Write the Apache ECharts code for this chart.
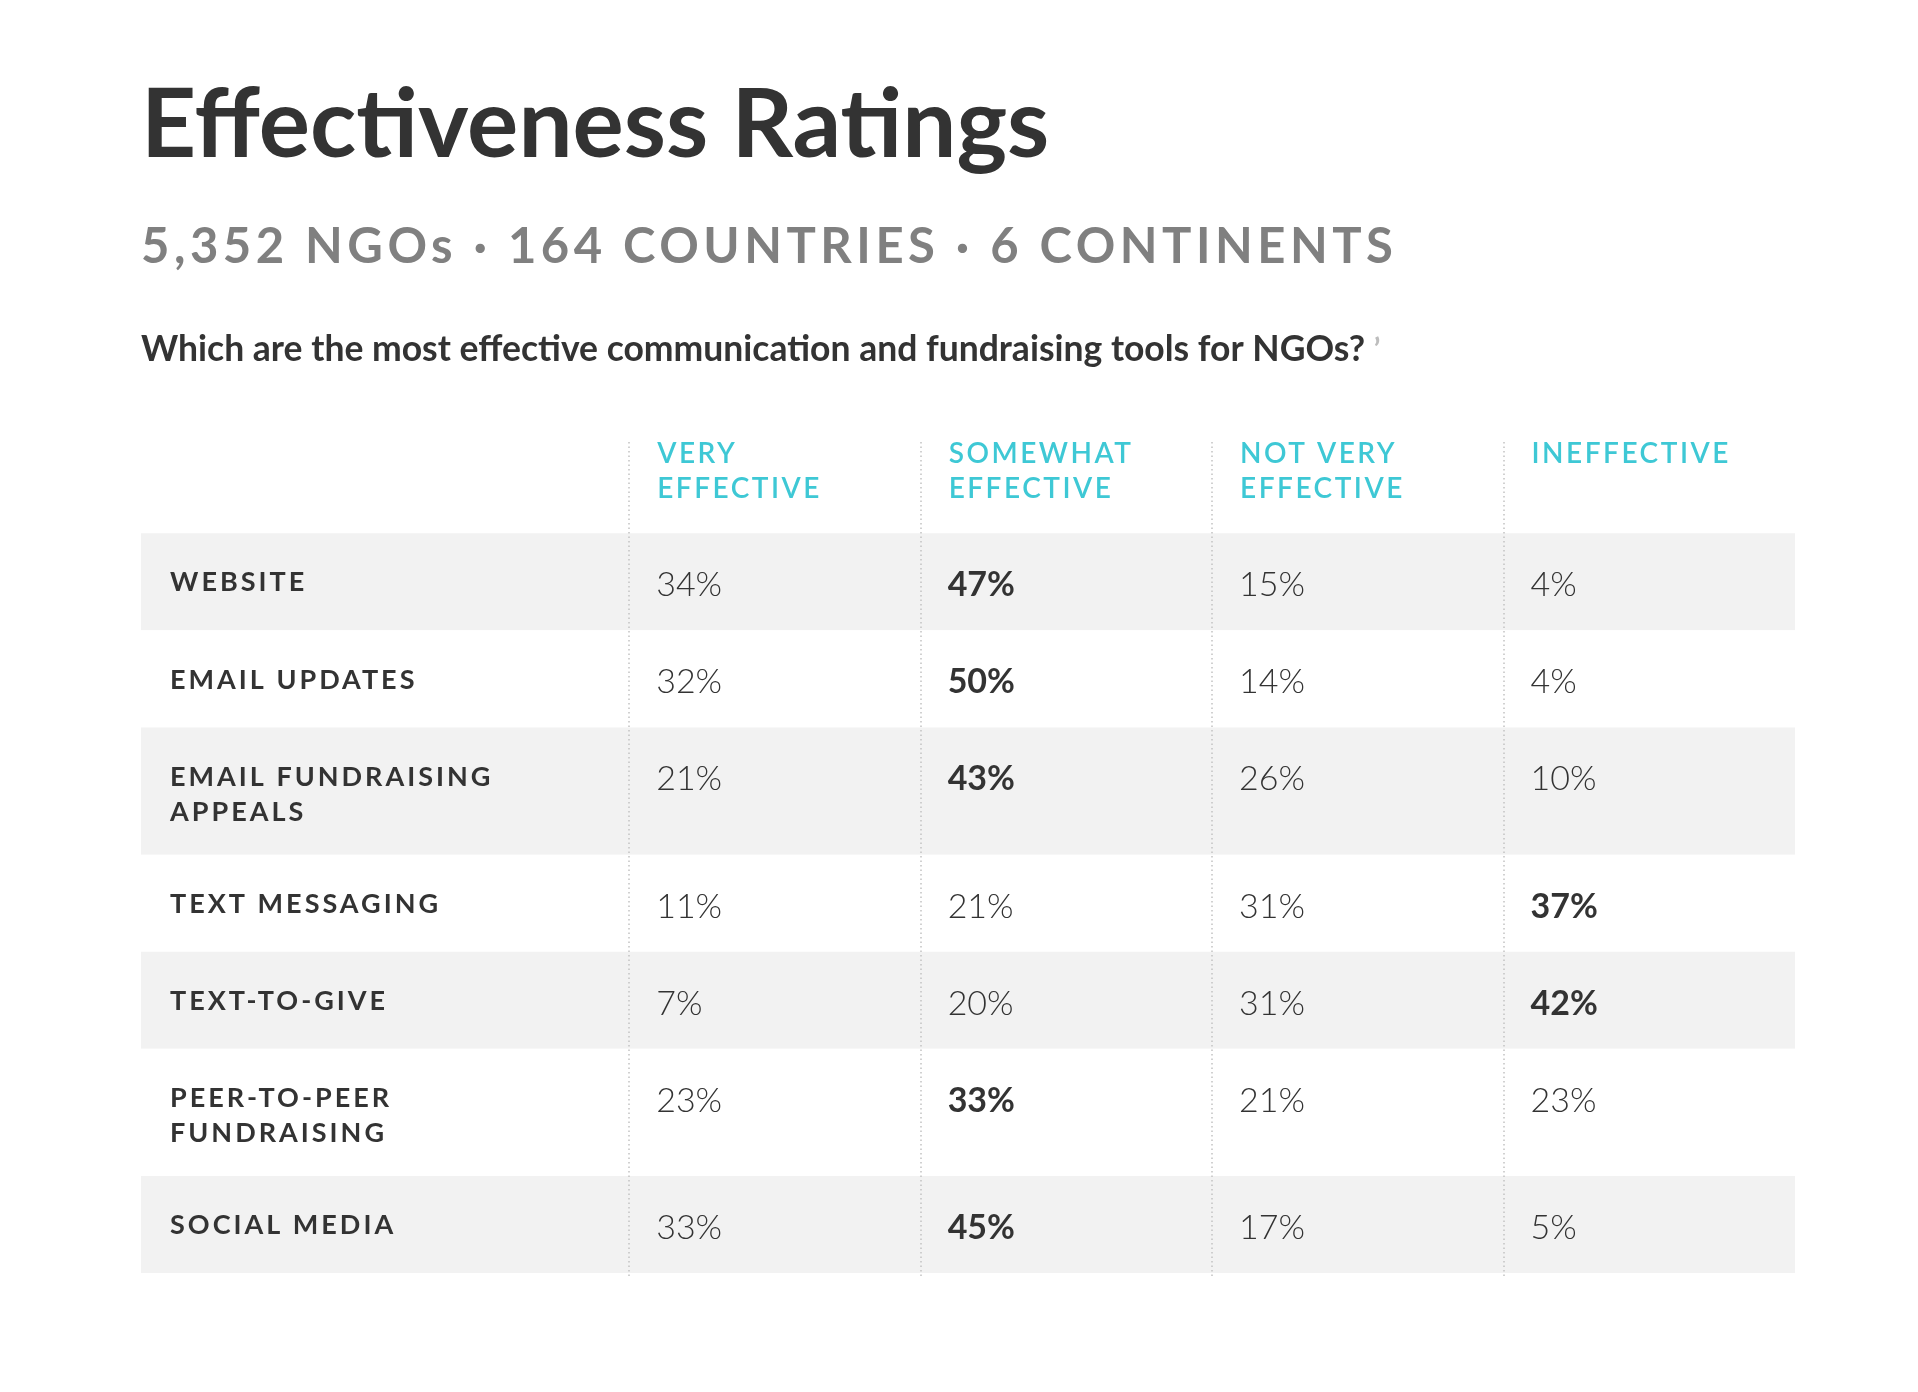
<!DOCTYPE html>
<html>
<head>
<meta charset="utf-8">
<title>Effectiveness Ratings</title>
<script src="https://cdn.jsdelivr.net/npm/echarts@6/dist/echarts.min.js"></script>
<style>
  html, body { margin: 0; padding: 0; background: #fff; }
  #chart { width: 1918px; height: 1392px; }
</style>
</head>
<body>
<div id="chart"></div>
<script>
// rows of the table (a "\n" gives a second label line and a taller row)
var tools = ['WEBSITE', 'EMAIL UPDATES', 'EMAIL FUNDRAISING\nAPPEALS', 'TEXT MESSAGING',
             'TEXT-TO-GIVE', 'PEER-TO-PEER\nFUNDRAISING', 'SOCIAL MEDIA'];
var ratings = ['VERY\nEFFECTIVE', 'SOMEWHAT\nEFFECTIVE', 'NOT VERY\nEFFECTIVE', 'INEFFECTIVE'];

// percent values, one list per rating column
var veryEffective     = [34, 32, 21, 11,  7, 23, 33];
var somewhatEffective = [47, 50, 43, 21, 20, 33, 45];
var notVeryEffective  = [15, 14, 26, 31, 31, 21, 17];
var ineffective       = [ 4,  4, 10, 37, 42, 23,  5];

var titleText = 'Effectiveness Ratings';
var subText = '5,352 NGOs \u00b7 164 COUNTRIES \u00b7 6 CONTINENTS';
var questionText = 'Which are the most effective communication and fundraising tools for NGOs?';

// letter spacing for the spaced-out caps, picked by font size
var SPACING = { '49': 4.5, '28': 2.5, '27': 3 };
var _fillText = CanvasRenderingContext2D.prototype.fillText;
CanvasRenderingContext2D.prototype.fillText = function (t, x, y, w) {
    var m = /(\d+)px/.exec(this.font);
    var sp = m && SPACING[m[1]];
    this.letterSpacing = sp ? sp + 'px' : '0px';
    return w === undefined ? _fillText.call(this, t, x, y) : _fillText.call(this, t, x, y, w);
};

var columns = [veryEffective, somewhatEffective, notVeryEffective, ineffective];
var LABEL_SPAN = 1.675;   // label column width, in rating-column widths
var HEADER_SPAN = 0.94;   // header band height, in row heights
var EXTRA_LINE = 0.31;    // added height per extra label line

var rowTop = [], rowSpan = [];
var acc = 0;
for (var r = 0; r < tools.length; r++) {
    var n = tools[r].split('\n').length;
    rowTop.push(acc);
    rowSpan.push(1 + EXTRA_LINE * (n - 1));
    acc += rowSpan[r];
}
var ROWS_END = acc;

var cells = [];
for (var c = 0; c < columns.length; c++) {
    for (var r2 = 0; r2 < tools.length; r2++) {
        cells.push([c, r2, columns[c][r2]]);
    }
}
function rowMax(r) {
    var m = 0;
    for (var c = 0; c < columns.length; c++) m = Math.max(m, columns[c][r]);
    return m;
}

var FONT = 'Lato, "Open Sans", sans-serif';
var chart = echarts.init(document.getElementById('chart'));

chart.setOption({
    backgroundColor: '#ffffff',
    animation: false,
    title: [
        { text: titleText, left: 141, top: 78, padding: 0,
          textStyle: { fontFamily: FONT, fontSize: 96, fontWeight: 'bold', color: '#333333' } },
        { text: subText, left: 141, top: 223, padding: 0,
          textStyle: { fontFamily: FONT, fontSize: 49, fontWeight: 'bold', color: '#808080' } },
        { text: questionText + ' {m|\u2019}', left: 141, top: 332, padding: 0,
          textStyle: { fontFamily: FONT, fontSize: 35.5, fontWeight: 'bold', color: '#333333',
                       rich: { m: { fontFamily: FONT, fontSize: 30, color: '#bdbdbd' } } } }
    ],
    grid: { left: 141, right: 123, top: 442, bottom: 115 },
    xAxis: { type: 'value', min: -LABEL_SPAN, max: columns.length, show: false },
    yAxis: { type: 'value', inverse: true, min: -HEADER_SPAN, max: ROWS_END + 0.04, show: false },
    series: [
        {
            // row bands, grey on every other row
            type: 'custom',
            silent: true,
            data: tools.map(function (t, i) { return [i]; }),
            renderItem: function (params, api) {
                var r = api.value(0);
                var p0 = api.coord([-LABEL_SPAN, rowTop[r]]);
                var p1 = api.coord([columns.length, rowTop[r] + rowSpan[r]]);
                return {
                    type: 'rect',
                    shape: { x: p0[0], y: p0[1], width: p1[0] - p0[0], height: p1[1] - p0[1] },
                    style: { fill: r % 2 === 0 ? '#f2f2f2' : '#ffffff' }
                };
            },
            markLine: {
                silent: true,
                symbol: 'none',
                label: { show: false },
                lineStyle: { color: '#c2c2c2', width: 1.5, type: [1.5, 3] },
                data: ratings.map(function (t, i) { return { xAxis: i }; })
            }
        },
        {
            // row labels
            type: 'custom',
            silent: true,
            data: tools.map(function (t, i) { return [i]; }),
            renderItem: function (params, api) {
                var r = api.value(0);
                var p = api.coord([-LABEL_SPAN, rowTop[r]]);
                return {
                    type: 'text',
                    x: p[0] + 29, y: p[1] + 32,
                    style: { text: tools[r], fontFamily: FONT, fontSize: 27, fontWeight: 'bold',
                             fill: '#333333', lineHeight: 35, verticalAlign: 'top', align: 'left' }
                };
            }
        },
        {
            // column headers
            type: 'custom',
            silent: true,
            data: ratings.map(function (t, i) { return [i]; }),
            renderItem: function (params, api) {
                var c = api.value(0);
                var p = api.coord([c, -HEADER_SPAN]);
                return {
                    type: 'text',
                    x: p[0] + 28, y: p[1] - 6,
                    style: { text: ratings[c], fontFamily: FONT, fontSize: 28, fontWeight: 600,
                             fill: '#3ec8d5', lineHeight: 35, verticalAlign: 'top', align: 'left' }
                };
            }
        },
        {
            // percentages, the largest in each row in bold
            type: 'custom',
            silent: true,
            data: cells,
            renderItem: function (params, api) {
                var c = api.value(0), r = api.value(1), v = api.value(2);
                var p = api.coord([c, rowTop[r]]);
                return {
                    type: 'text',
                    x: p[0] + 27, y: p[1] + 52,
                    style: { text: v + '%', fontFamily: FONT, fontSize: 34,
                             fontWeight: v === rowMax(r) ? 'bold' : 300,
                             fill: '#333333', verticalAlign: 'middle', align: 'left' }
                };
            }
        }
    ]
});
</script>
</body>
</html>
